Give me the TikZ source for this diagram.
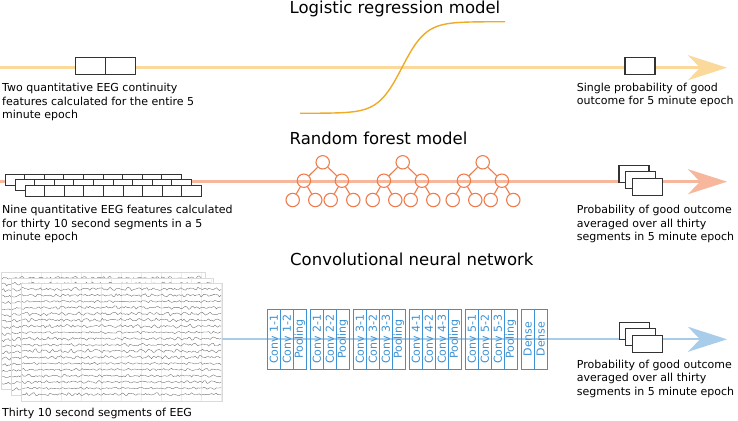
\documentclass[tikz,border=0pt]{standalone}
\usepackage{fontspec}
\setmainfont{DejaVu Sans}
\usetikzlibrary{arrows.meta}
\definecolor{lrline}{HTML}{FAD99A}
\definecolor{lrcurve}{HTML}{EFAA26}
\definecolor{rfline}{HTML}{F6B79C}
\definecolor{rftree}{HTML}{F07C4C}
\definecolor{cnnline}{HTML}{A8CDEB}
\definecolor{cnnbox}{HTML}{3C92D4}
\definecolor{boxgray}{HTML}{333333}
\definecolor{eegtrace}{HTML}{6A6A6A}
\definecolor{sheetedge}{HTML}{DADADA}
\definecolor{sheetgrid}{HTML}{EDEDED}
\begin{document}
\begin{tikzpicture}[x=1pt,y=-1pt,
  flow/.style={line width=2.6pt,-{Stealth[length=39pt,width=25pt,inset=12pt]}},
  featbox/.style={draw=boxgray,fill=white,line width=1.1pt,minimum width=30pt,minimum height=17pt,inner sep=0,outer sep=0},
  smallbox/.style={draw=boxgray,fill=white,line width=0.9pt,minimum width=19.6pt,minimum height=11pt,inner sep=0,outer sep=0,anchor=north west},
  body/.style={font=\fontsize{11}{13.6}\selectfont,align=left,anchor=north west,inner sep=0},
  ttl/.style={font=\fontsize{16.5}{19}\selectfont,anchor=base west,inner sep=0},
  circ/.style={circle,draw=rftree,line width=1.1pt,minimum size=13.4pt,inner sep=0},
  treeedge/.style={draw=rftree,line width=1.1pt},
  layer/.style={draw=cnnbox,line width=0.9pt,minimum width=60pt,minimum height=13pt,inner sep=0,rotate=90,text=cnnbox,font=\fontsize{11}{12}\selectfont},
  sheet/.style={draw=sheetedge,fill=white,line width=0.5pt,inner sep=0,anchor=north west}
]
\useasboundingbox (0,0) rectangle (738,420);

% ---------------- Logistic regression ----------------
\node[ttl] (t1) at (289.5,14) {Logistic regression model};
\coordinate (a1s) at (0,67.7);
\coordinate (a1e) at (727,67.7);
\draw[flow,color=lrline] (a1s) -- (a1e);
\draw[lrcurve,line width=1.4pt] plot[domain=300:505,samples=90] (\x,{113.3-91.6/(1+exp(-(\x-402)/12))});
\node[featbox] (f1) at (90.7,65.7) {};
\node[featbox] (f2) at (120.4,65.7) {};
\node[featbox] (o1) at (640,65.7) {};
\node[body] (l1) at (2,83.1) {Two quantitative EEG continuity\\features calculated for the entire 5\\minute epoch};
\node[body] (r1) at (576.7,82.8) {Single probability of good\\outcome for 5 minute epoch};

% ---------------- Random forest ----------------
\node[ttl] (t2) at (289.5,144) {Random forest model};
\coordinate (a2s) at (0,181.7);
\coordinate (a2e) at (727,181.7);
\draw[flow,color=rfline] (a2s) -- (a2e);
\foreach \r in {0,1,2}{
  \foreach \c in {0,...,8}{
    \node[smallbox] (fb\r\c) at ({5+10*\r+19.6*\c},{174+5.5*\r}) {};
  }
}
\foreach \rx [count=\k] in {322.7,402.7,482.7}{
  \node[circ] (tr\k) at (\rx,162.3) {};
  \node[circ] (ta\k) at (\rx-18.8,180.7) {};
  \node[circ] (tb\k) at (\rx+19.2,180.7) {};
  \node[circ] (tc\k) at (\rx-30,200) {};
  \node[circ] (td\k) at (\rx-7.4,200) {};
  \node[circ] (te\k) at (\rx+8,200) {};
  \node[circ] (tf\k) at (\rx+30.6,200) {};
  \draw[treeedge] (tr\k) -- (ta\k);
  \draw[treeedge] (tr\k) -- (tb\k);
  \draw[treeedge] (ta\k) -- (tc\k);
  \draw[treeedge] (ta\k) -- (td\k);
  \draw[treeedge] (tb\k) -- (te\k);
  \draw[treeedge] (tb\k) -- (tf\k);
}
\node[featbox] (o2a) at (634,173.7) {};
\node[featbox] (o2b) at (640.7,180.4) {};
\node[featbox] (o2c) at (647.4,187) {};
\node[body] (l2) at (2,204.9) {Nine quantitative EEG features calculated\\for thirty 10 second segments in a 5\\minute epoch};
\node[body] (r2) at (576.7,204.9) {Probability of good outcome\\averaged over all thirty\\segments in 5 minute epoch};

% ---------------- CNN ----------------
\node[ttl] (t3) at (290,265) {Convolutional neural network};
\pgfmathsetseed{7}
\foreach \xa/\ya/\xb/\yb/\nm in {1/272/205/389/eegA,11/277.5/213/395/eegB,21/283/222/401/eegC}{
  \node[sheet,minimum width={\xb-\xa},minimum height={\yb-\ya}] (\nm) at (\xa,\ya) {};
  \foreach \g in {1,...,10}{
    \draw[sheetgrid,line width=0.4pt] ({\xa+20*\g},\ya+0.5) -- ({\xa+20*\g},\yb-0.5);
  }
  \foreach \i in {1,...,18}{
    \pgfmathsetmacro{\yy}{\ya+6+(\i-1)*6.2}
    \pgfmathsetmacro{\am}{0.6+0.5*rnd}
    \draw[eegtrace,line width=0.35pt] plot[domain={\xa+1}:{\xb-1},samples=130] (\x,{\yy+\am*(0.7*sin(\x*41+\i*57)+0.5*sin(\x*61+\i*23)+1.1*rand)});
  }
}
\coordinate (a3s) at (222,339.3);
\coordinate (a3e) at (727,339.3);
\draw[flow,color=cnnline,line width=2.2pt] (a3s) -- (a3e);
\foreach \cx/\lab [count=\k] in {273.8/Conv 1-1,286.8/Conv 1-2,299.8/Pooling,
  316.8/Conv 2-1,329.8/Conv 2-2,342.8/Pooling,
  359.8/Conv 3-1,372.8/Conv 3-2,385.8/Conv 3-3,398.8/Pooling,
  415.8/Conv 4-1,428.8/Conv 4-2,441.8/Conv 4-3,454.8/Pooling,
  471.8/Conv 5-1,484.8/Conv 5-2,497.8/Conv 5-3,510.8/Pooling,
  527.8/Dense,540.8/Dense}{
  \node[layer] (cnn\k) at (\cx,339) {\lab};
}
\node[featbox] (o3a) at (634.2,330.7) {};
\node[featbox] (o3b) at (640.9,337.4) {};
\node[featbox] (o3c) at (647.6,344) {};
\node[body] (r3) at (576.7,359.6) {Probability of good outcome\\averaged over all thirty\\segments in 5 minute epoch};
\node[font=\fontsize{11}{13.6}\selectfont,anchor=base west,inner sep=0] (l3) at (2,416) {Thirty 10 second segments of EEG};
\end{tikzpicture}
\end{document}
